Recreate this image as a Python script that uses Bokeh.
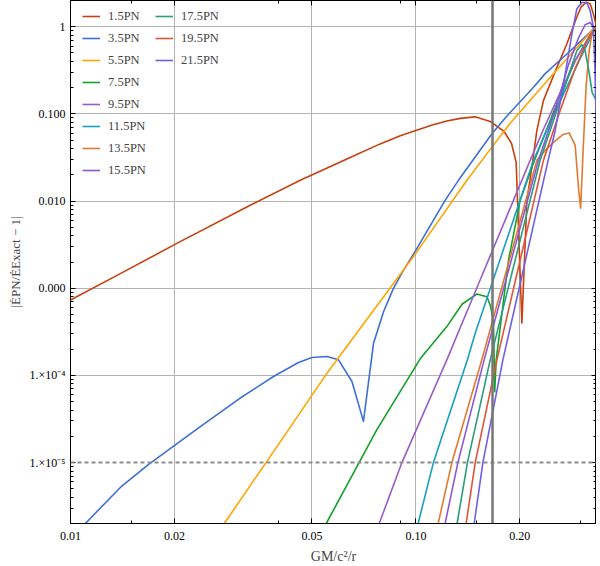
from bokeh.plotting import figure
from bokeh.models import (Range1d, FixedTicker, LogAxis, Span, Legend, LegendItem,
                          CustomJSTickFormatter)
from bokeh.embed import file_html
from bokeh.resources import INLINE

# ---------------- data ----------------
X_RANGE = (0.01, 1 / 3)
Y_RANGE = (2e-6, 2.0)
X_TICKS = [0.01, 0.02, 0.05, 0.1, 0.2]
X_TICK_LABELS = ["0.01", "0.02", "0.05", "0.10", "0.20"]
X_MINOR = [0.015, 0.04, 0.09, 0.15, 0.3]
Y_TICKS = [1e-5, 1e-4, 1e-3, 1e-2, 1e-1, 1.0]
Y_TICK_LABELS = ["1.×10⁻⁵", "1.×10⁻⁴", "0.000", "0.010", "0.100", "1"]
Y_GRID = [1e-4, 1e-3, 1e-2, 1e-1, 1.0]
ISCO = 1 / 6
TOLERANCE = 1e-5

NAMES = ["1.5PN", "3.5PN", "5.5PN", "7.5PN", "9.5PN", "11.5PN",
         "13.5PN", "15.5PN", "17.5PN", "19.5PN", "21.5PN"]
COLORS = ["#c8400f", "#3f6fd6", "#ffa500", "#15a02a", "#9a5cc6", "#1a9fbf",
          "#e07a2f", "#8b57d9", "#2a9d7c", "#e05438", "#6f5ee8"]

X_1p5 = [0.01, 0.01394, 0.02038, 0.03314, 0.04626, 0.06453, 0.0788, 0.0901, 0.1, 0.1115,
         0.1229, 0.1344, 0.1485, 0.1641, 0.1801, 0.1892, 0.1951, 0.2027, 0.2096, 0.2167,
         0.224, 0.234, 0.2502, 0.2735, 0.2911, 0.3009, 0.3111, 0.3195, 0.3266, 0.3333]
Y_1p5 = [7.33e-4, 1.47e-3, 3.29e-3, 8.95e-3, 0.0173, 0.0316, 0.0453, 0.0561, 0.0647, 0.0746,
         0.0828, 0.0889, 0.0925, 0.0818, 0.0629, 0.0458, 0.0278, 4.0e-4, 0.0102, 0.0246,
         0.0646, 0.142, 0.275, 0.634, 1.235, 1.694, 1.907, 1.833, 1.398, 1.0]

X_3p5 = [0.01104, 0.01394, 0.0168, 0.02376, 0.031, 0.0387, 0.0457, 0.05, 0.0553,
         0.0597, 0.0653, 0.0705, 0.0754, 0.0806, 0.0861, 0.0921, 0.1, 0.1215, 0.1328,
         0.166, 0.184, 0.219, 0.2364, 0.2736, 0.3266, 0.3333]
Y_3p5 = [2.0e-6, 5.18e-6, 9.49e-6, 2.58e-5, 5.5e-5, 9.71e-5, 1.405e-4, 1.602e-4,
         1.645e-4, 1.509e-4, 8.51e-5, 2.97e-5, 2.34e-4, 5.38e-4, 9.97e-4, 1.615e-3,
         2.735e-3, 0.0102, 0.0173, 0.0592, 0.0959, 0.202, 0.288, 0.487, 0.941, 1.0]

X_5p5 = [0.02787, 0.0428, 0.0546, 0.1, 0.1405, 0.166, 0.1875, 0.2447, 0.3266, 0.3333]
Y_5p5 = [2.0e-6, 2.385e-5, 9.89e-5, 2.527e-3, 0.0173, 0.0416, 0.078, 0.261, 0.941, 1.0]

X_7p5 = [0.055, 0.0771, 0.1029, 0.1229, 0.1362, 0.1502, 0.1605, 0.1641, 0.1677,
         0.1691, 0.1708, 0.1854, 0.2004, 0.2204, 0.258, 0.2892, 0.3153, 0.3333]
Y_7p5 = [2.0e-6, 2.385e-5, 1.55e-4, 3.63e-4, 6.6e-4, 8.58e-4, 7.99e-4, 6.42e-4,
         4.33e-4, 6.49e-5, 1.509e-4, 2.1e-3, 0.0102, 0.0293, 0.1423, 0.408, 0.729, 1.0]

X_9p5 = [0.0783, 0.0911, 0.1229, 0.1485, 0.2142, 0.2367, 0.2617, 0.2892, 0.3195, 0.3333]
Y_9p5 = [2.0e-6, 1.0e-5, 1.509e-4, 9.12e-4, 0.0293, 0.0737, 0.1757, 0.408, 0.81, 1.0]

X_11p5 = [0.1015, 0.1124, 0.141, 0.1485, 0.219, 0.2447, 0.2705, 0.2989, 0.3217, 0.3333]
Y_11p5 = [2.0e-6, 1.0e-5, 1.509e-4, 3.05e-4, 0.0293, 0.0797, 0.1852, 0.43, 0.768, 1.0]

X_13p5 = [0.116, 0.1271, 0.1552, 0.224, 0.2367, 0.2522, 0.2669, 0.2778, 0.2892,
          0.296, 0.2999, 0.3049, 0.3111, 0.3174, 0.3238, 0.3333]
Y_13p5 = [2.0e-6, 1.0e-5, 1.509e-4, 0.0293, 0.0381, 0.0483, 0.0581, 0.0605, 0.0435,
          0.0133, 0.00827, 0.0381, 0.2113, 0.531, 0.854, 1.0]

X_15p5 = [0.1215, 0.1323, 0.1576, 0.2264, 0.2531, 0.276, 0.295, 0.309, 0.3195, 0.3266, 0.3333]
Y_15p5 = [2.0e-6, 1.0e-5, 1.509e-4, 0.0293, 0.1094, 0.358, 0.729, 1.054, 1.12, 0.982, 0.949]

X_17p5 = [0.1316, 0.141, 0.1641, 0.2289, 0.2548, 0.2797, 0.2924, 0.302, 0.309,
          0.3174, 0.3238, 0.3333]
Y_17p5 = [2.0e-6, 1.0e-5, 1.509e-4, 0.0293, 0.1038, 0.3137, 0.531, 0.622, 0.531,
          0.298, 0.1757, 0.1423]

X_19p5 = [0.1398, 0.1485, 0.1716, 0.234, 0.2617, 0.2892, 0.3153, 0.3333]
Y_19p5 = [2.0e-6, 1.0e-5, 1.509e-4, 0.0293, 0.1094, 0.331, 0.729, 1.0]

X_21p5 = [0.1475, 0.1563, 0.1786, 0.2415, 0.2531, 0.2675, 0.2829, 0.2924, 0.3023,
          0.3125, 0.3195, 0.3266, 0.3299, 0.3333]
Y_21p5 = [2.0e-6, 1.0e-5, 1.509e-4, 0.0293, 0.0646, 0.221, 0.825, 1.607, 1.897,
          1.897, 1.524, 0.982, 0.331, 0.0537]

SERIES_X = [X_1p5, X_3p5, X_5p5, X_7p5, X_9p5, X_11p5, X_13p5, X_15p5, X_17p5, X_19p5, X_21p5]
SERIES_Y = [Y_1p5, Y_3p5, Y_5p5, Y_7p5, Y_9p5, Y_11p5, Y_13p5, Y_15p5, Y_17p5, Y_19p5, Y_21p5]

# ---------------- figure ----------------
FONT = "Liberation Serif"
FRAME_W = 526
FRAME_H = 523

p = figure(x_axis_type="log", y_axis_type="log",
           x_range=Range1d(*X_RANGE), y_range=Range1d(*Y_RANGE),
           frame_width=FRAME_W, frame_height=FRAME_H,
           min_border_left=70, min_border_right=0, min_border_top=0, min_border_bottom=34,
           output_backend="svg", toolbar_location=None,
           background_fill_color="white", border_fill_color="white")
p.outline_line_color = "black"

label_code = """
for (let i = 0; i < tick_vals.length; i++) {
  if (Math.abs(tick - tick_vals[i]) < 1e-6 * tick_vals[i]) return tick_labels[i];
}
return '';
"""
y_minor = [m * 10.0 ** e for e in range(-6, 1) for m in range(2, 10)]

xt = FixedTicker(ticks=X_TICKS, minor_ticks=X_MINOR)
yt = FixedTicker(ticks=Y_TICKS, minor_ticks=y_minor)


def style_axis(ax, ticker):
    ax.ticker = ticker
    ax.axis_line_color = "black"
    ax.major_tick_in = 5
    ax.major_tick_out = 0
    ax.minor_tick_in = 3
    ax.minor_tick_out = 0
    ax.major_tick_line_color = "black"
    ax.minor_tick_line_color = "black"
    ax.major_label_text_font = FONT
    ax.major_label_text_font_size = "12px"
    ax.major_label_text_color = "black"


xa = p.xaxis[0]
style_axis(xa, xt)
xa.formatter = CustomJSTickFormatter(args=dict(tick_vals=X_TICKS, tick_labels=X_TICK_LABELS),
                                     code=label_code)
xa.major_label_standoff = 8
xa.axis_label = "GM/c²/r"
xa.axis_label_text_font = FONT
xa.axis_label_text_font_style = "normal"
xa.axis_label_text_font_size = "14px"
xa.axis_label_standoff = 6

ya = p.yaxis[0]
style_axis(ya, yt)
ya.formatter = CustomJSTickFormatter(args=dict(tick_vals=Y_TICKS, tick_labels=Y_TICK_LABELS),
                                     code=label_code)
ya.major_label_standoff = 5
ya.axis_label = "|ĖPN/ĖExact − 1|"
ya.axis_label_text_font = FONT
ya.axis_label_text_font_style = "normal"
ya.axis_label_text_font_size = "13px"
ya.axis_label_standoff = 4

for place, ticker in (("above", xt), ("right", yt)):
    ax = LogAxis()
    style_axis(ax, ticker)
    ax.formatter = CustomJSTickFormatter(code="return '';")
    ax.major_label_text_font_size = "0px"
    ax.major_label_standoff = 0
    p.add_layout(ax, place)

p.xgrid.ticker = FixedTicker(ticks=X_TICKS)
p.ygrid.ticker = FixedTicker(ticks=Y_GRID)
for g in (p.xgrid[0], p.ygrid[0]):
    g.grid_line_color = "#b4b4b4"
    g.grid_line_width = 1

p.add_layout(Span(location=TOLERANCE, dimension="width", line_color="#8c8c8c",
                  line_width=2, line_dash="4 3"))
p.add_layout(Span(location=ISCO, dimension="height", line_color="#767676",
                  line_width=2.5))

items = []
for name, color, xs, ys in zip(NAMES, COLORS, SERIES_X, SERIES_Y):
    r = p.line(xs, ys, line_color=color, line_width=1.6, line_join="round")
    items.append(LegendItem(label=name, renderers=[r]))

LEG_ROW_H = 16
LEG_SPACING = 6
legend_h = 8 * LEG_ROW_H + 7 * LEG_SPACING
legend = Legend(items=items, location=(12, FRAME_H - legend_h - 8), orientation="vertical",
                nrows=8, glyph_width=18, glyph_height=LEG_ROW_H, label_height=LEG_ROW_H,
                label_width=41, label_standoff=8, spacing=LEG_SPACING, padding=0, margin=0,
                label_text_font=FONT, label_text_font_size="12.5px",
                background_fill_alpha=0, border_line_alpha=0)
p.add_layout(legend)

open("out.html", "w").write(file_html(p, INLINE))
